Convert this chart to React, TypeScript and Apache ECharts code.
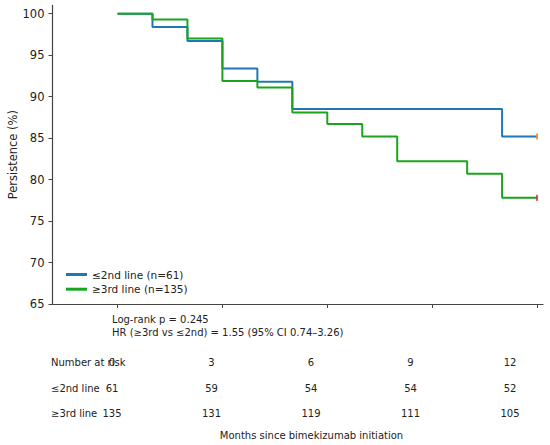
import React, { useEffect, useRef } from "react";
import * as echarts from "echarts";

const lowTimes = [0, 1, 2, 3, 4, 5, 11, 12];
const lowSurv = [100, 98.4, 96.7, 93.4, 91.8, 88.5, 85.2, 85.2];
const highTimes = [0, 1, 2, 3, 4, 5, 6, 7, 8, 10, 11, 12];
const highSurv = [100, 99.3, 97.0, 91.9, 91.1, 88.1, 86.7, 85.2, 82.2, 80.7, 77.8, 77.8];
const xTicks = [0, 3, 6, 9, 12];
const yTicks = [65, 70, 75, 80, 85, 90, 95, 100];
const riskMonths = [0, 3, 6, 9, 12];
const riskLow = [61, 59, 54, 54, 52];
const riskHigh = [135, 131, 119, 111, 105];
const seriesNames = ["≤2nd line (n=61)", "≥3rd line (n=135)"];
const rowLabels = ["≤2nd line", "≥3rd line"];
const statsLines = ["Log-rank p = 0.245", "HR (≥3rd vs ≤2nd) = 1.55 (95% CI 0.74–3.26)"];
const xLabel = "Months since bimekizumab initiation";
const yLabel = "Persistence (%)";

const BLUE = "#1f77b4";
const GREEN = "#1ba51f";
const FONT = "DejaVu Sans";
const TXT = "#222";

export default function App() {
  const ref = useRef<HTMLDivElement>(null);
  useEffect(() => {
    document.body.style.margin = "0";
    const chart = echarts.init(ref.current!, null, { renderer: "svg" });
    const colX = (m: number) => 112 + (m * 398) / 12;
    const graphics: any[] = [];
    statsLines.forEach((t, i) => {
      graphics.push({
        type: "text",
        x: 112,
        y: 319 + i * 13.3,
        style: { text: t, fill: TXT, font: `10px '${FONT}'`, verticalAlign: "middle" },
      });
    });
    const rowY = [362.7, 388.3, 413.2];
    graphics.push({
      type: "text",
      x: 51,
      y: rowY[0],
      style: { text: "Number at risk", fill: TXT, font: `10px '${FONT}'`, verticalAlign: "middle" },
    });
    riskMonths.forEach((m) => {
      graphics.push({
        type: "text",
        x: colX(m),
        y: rowY[0],
        style: { text: String(m), fill: TXT, font: `10px '${FONT}'`, align: "center", verticalAlign: "middle" },
      });
    });
    [riskLow, riskHigh].forEach((row, r) => {
      graphics.push({
        type: "text",
        x: 51,
        y: rowY[r + 1],
        style: { text: rowLabels[r], fill: TXT, font: `10px '${FONT}'`, verticalAlign: "middle" },
      });
      row.forEach((v, i) => {
        graphics.push({
          type: "text",
          x: colX(riskMonths[i]),
          y: rowY[r + 1],
          style: { text: String(v), fill: TXT, font: `10px '${FONT}'`, align: "center", verticalAlign: "middle" },
        });
      });
    });
    graphics.push({
      type: "text",
      x: 311.5,
      y: 435.7,
      style: { text: xLabel, fill: TXT, font: `10px '${FONT}'`, align: "center", verticalAlign: "middle" },
    });

    chart.setOption({
      animation: false,
      backgroundColor: "#fff",
      textStyle: { fontFamily: FONT },
      grid: {
        left: 52.5,
        top: 5.4,
        width: 490.5,
        height: 298.6,
        containLabel: false,
        outerBoundsMode: "none",
      },
      xAxis: {
        type: "value",
        min: -1.86,
        max: 12.17,
        splitLine: { show: false },
        axisLine: { onZero: false, lineStyle: { color: "#444", width: 1.2 } },
        axisTick: { show: true, length: 4, customValues: xTicks, lineStyle: { color: "#444" } },
        axisLabel: { show: false },
      },
      yAxis: {
        type: "value",
        min: 65,
        max: 101,
        name: yLabel,
        nameLocation: "middle",
        nameGap: 34,
        nameMoveOverlap: false,
        nameTextStyle: { fontSize: 11.5, color: TXT, fontFamily: FONT },
        splitLine: { show: false },
        axisLine: { show: true, onZero: false, lineStyle: { color: "#444", width: 1.2 } },
        axisTick: { show: true, length: 4, customValues: yTicks, lineStyle: { color: "#444" } },
        axisLabel: { customValues: yTicks, fontSize: 11.5, color: TXT, margin: 8, fontFamily: FONT },
      },
      legend: {
        orient: "vertical",
        left: 61,
        top: 263,
        itemWidth: 21,
        itemHeight: 3,
        itemGap: 1.7,
        icon: "rect",
        data: seriesNames,
        textStyle: { fontSize: 10.5, color: TXT, fontFamily: FONT, lineHeight: 13, padding: [0, 0, 0, 0] },
      },
      series: [
        {
          name: seriesNames[0],
          type: "line",
          step: "end",
          showSymbol: false,
          color: BLUE,
          lineStyle: { width: 2, color: BLUE },
          data: lowTimes.map((t, i) => [t, lowSurv[i]]),
          z: 3,
        },
        {
          name: seriesNames[1],
          type: "line",
          step: "end",
          showSymbol: false,
          color: GREEN,
          lineStyle: { width: 2, color: GREEN },
          data: highTimes.map((t, i) => [t, highSurv[i]]),
          z: 4,
        },
        {
          name: "censor-low",
          type: "scatter",
          symbol: "rect",
          symbolSize: [2, 6],
          itemStyle: { color: "#ff7f0e" },
          data: [[lowTimes[lowTimes.length - 1], lowSurv[lowSurv.length - 1]]],
          z: 5,
        },
        {
          name: "censor-high",
          type: "scatter",
          symbol: "rect",
          symbolSize: [2, 6],
          itemStyle: { color: "#d62728" },
          data: [[highTimes[highTimes.length - 1], highSurv[highSurv.length - 1]]],
          z: 5,
        },
      ],
      graphic: graphics,
    });
    return () => chart.dispose();
  }, []);
  return <div ref={ref} style={{ width: 550, height: 445 }} />;
}
